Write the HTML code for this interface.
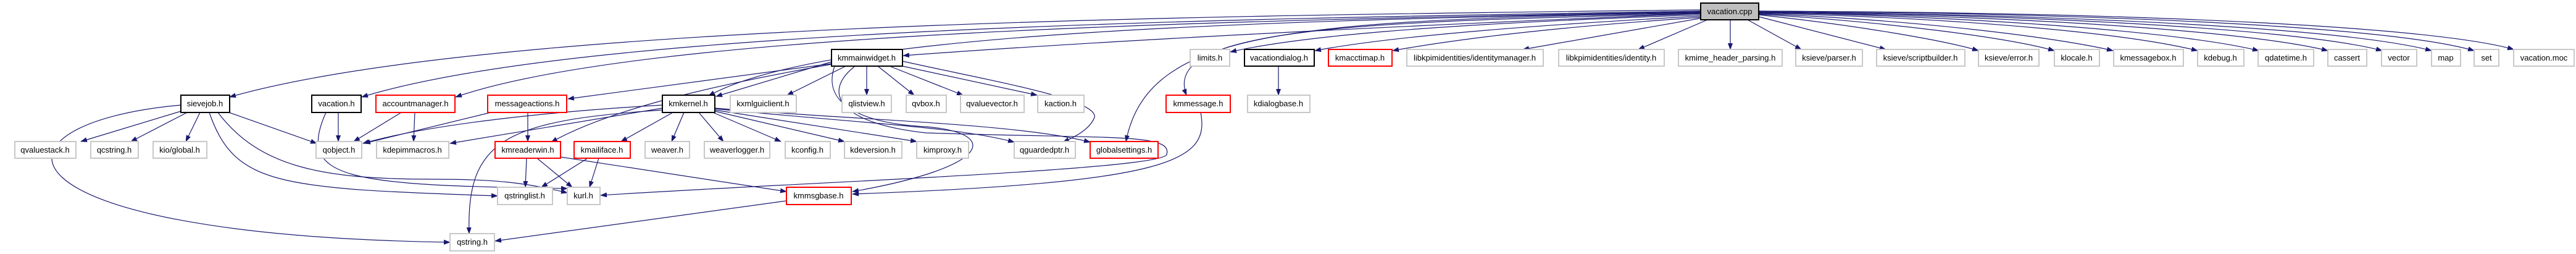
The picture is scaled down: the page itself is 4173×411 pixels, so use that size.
<!DOCTYPE html>
<html><head><meta charset="utf-8"><style>
html,body{margin:0;padding:0;background:#fff;}
svg{display:block}
text{font-family:"Liberation Sans",Helvetica,sans-serif;font-size:13px;fill:#000;text-anchor:middle}
.g{fill:#fff;stroke:#c8c8c8;stroke-width:2}
.b{fill:#fff;stroke:#000;stroke-width:2}
.r{fill:#fff;stroke:#ff0000;stroke-width:2}
.e path{fill:none;stroke:#191970;stroke-width:1.2}
</style></head><body>
<svg width="4173" height="411" viewBox="0 0 4173 411" xmlns="http://www.w3.org/2000/svg">
<defs><marker id="a" markerWidth="11" markerHeight="8" refX="10" refY="4" orient="auto" markerUnits="userSpaceOnUse"><path d="M0,0 L11,4 L0,8 z" fill="#191970"/></marker></defs>
<g class="e" marker-end="url(#a)">
<!-- from vacation.cpp -->
<path d="M2755,16 C2000,25 800,35 372,157" marker-end="url(#a)"/>
<path d="M2755,18 C2000,30 950,45 586,157" marker-end="url(#a)"/>
<path d="M2755,19 C2000,33 1050,50 738,157" marker-end="url(#a)"/>
<path d="M2755,20 C1900,35 1320,60 1148,155" marker-end="url(#a)"/>
<path d="M2755,22 C2300,40 1800,65 1463,90" marker-end="url(#a)"/>
<path d="M2755,22 C2200,35 1880,45 1922,154" marker-end="url(#a)"/>
<path d="M2755,21 C2100,33 1860,45 1824,229" marker-end="url(#a)"/>
<path d="M2755,24 C2300,40 2100,60 1993,84" marker-end="url(#a)"/>
<path d="M2756,26 C2400,45 2220,65 2130,82" marker-end="url(#a)"/>
<path d="M2757,28 C2500,45 2350,65 2256,82" marker-end="url(#a)"/>
<path d="M2758,29 L2467,80" marker-end="url(#a)"/>
<path d="M2766,32 L2654,80" marker-end="url(#a)"/>
<path d="M2803,32 L2803,80" marker-end="url(#a)"/>
<path d="M2831,32 L2918,80" marker-end="url(#a)"/>
<path d="M2849,27 L3055,80" marker-end="url(#a)"/>
<path d="M2849,24 C3000,40 3150,65 3205,82" marker-end="url(#a)"/>
<path d="M2849,23 C3050,35 3250,60 3328,82" marker-end="url(#a)"/>
<path d="M2849,22 C3100,32 3330,60 3423,82" marker-end="url(#a)"/>
<path d="M2849,21 C3200,30 3450,55 3560,82" marker-end="url(#a)"/>
<path d="M2849,20 C3250,28 3550,55 3659,82" marker-end="url(#a)"/>
<path d="M2849,20 C3300,26 3650,52 3771,82" marker-end="url(#a)"/>
<path d="M2849,19 C3350,25 3740,50 3859,82" marker-end="url(#a)"/>
<path d="M2849,19 C3400,24 3810,48 3939,82" marker-end="url(#a)"/>
<path d="M2849,18 C3450,22 3880,45 4008,82" marker-end="url(#a)"/>
<path d="M2849,18 C3500,20 3950,45 4072,80" marker-end="url(#a)"/>
<!-- kmmainwidget -->
<path d="M1347,100 L1160,156" marker-end="url(#a)"/>
<path d="M1347,103 L920,160" marker-end="url(#a)"/>
<path d="M1370,107 L1275,154" marker-end="url(#a)"/>
<path d="M1404,107 L1404,154" marker-end="url(#a)"/>
<path d="M1422,107 L1481,154" marker-end="url(#a)"/>
<path d="M1441,107 L1560,154" marker-end="url(#a)"/>
<path d="M1462,107 L1680,154" marker-end="url(#a)"/>
<path d="M1462,99 C1600,130 1780,160 1773,190 C1765,210 1740,222 1722,230" marker-end="url(#a)"/>
<path d="M1347,104 C1200,130 1000,170 893,230" marker-end="url(#a)"/>
<path d="M1385,107 C1330,150 1360,200 1500,215 C1800,225 1900,215 1890,250 C1880,275 1300,295 973,316" marker-end="url(#a)"/>
<path d="M1352,107 C1330,170 1400,200 1500,205 C1620,215 1610,270 1381,310" marker-end="url(#a)"/>
<!-- kmkernel -->
<path d="M1073,170 C900,180 700,200 588,232" marker-end="url(#a)"/>
<path d="M1073,175 L729,232" marker-end="url(#a)"/>
<path d="M1073,178 C820,195 755,225 760,378" marker-end="url(#a)"/>
<path d="M1090,182 L1006,229" marker-end="url(#a)"/>
<path d="M1108,182 L1088,229" marker-end="url(#a)"/>
<path d="M1132,182 L1172,229" marker-end="url(#a)"/>
<path d="M1155,182 L1265,229" marker-end="url(#a)"/>
<path d="M1158,180 L1368,229" marker-end="url(#a)"/>
<path d="M1158,178 C1300,200 1400,215 1485,229" marker-end="url(#a)"/>
<path d="M1158,176 C1400,200 1550,205 1643,230" marker-end="url(#a)"/>
<path d="M1158,175 C1400,195 1650,200 1766,230" marker-end="url(#a)"/>
<!-- messageactions -->
<path d="M795,182 L590,232" marker-end="url(#a)"/>
<path d="M855,182 L855,229" marker-end="url(#a)"/>
<!-- sievejob -->
<path d="M293,180 L131,229" marker-end="url(#a)"/>
<path d="M303,182 L212,229" marker-end="url(#a)"/>
<path d="M324,182 L301,229" marker-end="url(#a)"/>
<path d="M371,182 L513,232" marker-end="url(#a)"/>
<path d="M353,182 C420,270 520,290 700,290 C800,290 850,295 919,312" marker-end="url(#a)"/>
<path d="M339,182 C380,300 450,305 806,317" marker-end="url(#a)"/>
<path d="M293,170 C-40,200 -30,380 729,392" marker-end="url(#a)"/>
<!-- vacation.h -->
<path d="M548,182 L548,229" marker-end="url(#a)"/>
<path d="M528,182 C480,290 560,300 919,305" marker-end="url(#a)"/>
<!-- accountmanager -->
<path d="M650,182 L573,229" marker-end="url(#a)"/>
<path d="M672,182 L670,229" marker-end="url(#a)"/>
<!-- kmreaderwin -->
<path d="M853,256 L851,303" marker-end="url(#a)"/>
<path d="M870,256 L927,303" marker-end="url(#a)"/>
<path d="M908,254 L1274,310" marker-end="url(#a)"/>
<!-- kmailiface -->
<path d="M952,256 L877,303" marker-end="url(#a)"/>
<path d="M970,256 L955,303" marker-end="url(#a)"/>
<!-- kmmsgbase -->
<path d="M1274,325 L802,390" marker-end="url(#a)"/>
<!-- kmmessage -->
<path d="M1945,182 C1960,260 1900,295 1381,314" marker-end="url(#a)"/>
<!-- vacationdialog -->
<path d="M2071,107 L2071,154" marker-end="url(#a)"/>
</g>
<g>
<rect x="2755" y="5" width="94" height="27" fill="#bfbfbf" stroke="#000" stroke-width="2"/><text x="2802" y="23">vacation.cpp</text>
<!-- row2 -->
<rect class="b" x="1347" y="80" width="115" height="27"/><text x="1404" y="98">kmmainwidget.h</text>
<rect class="g" x="1928" y="80" width="64" height="27"/><text x="1960" y="98">limits.h</text>
<rect class="b" x="2016" y="80" width="113" height="27"/><text x="2072" y="98">vacationdialog.h</text>
<rect class="r" x="2152" y="80" width="103" height="27"/><text x="2203" y="98">kmacctimap.h</text>
<rect class="g" x="2279" y="80" width="221" height="27"/><text x="2389" y="98">libkpimidentities/identitymanager.h</text>
<rect class="g" x="2525" y="80" width="171" height="27"/><text x="2610" y="98">libkpimidentities/identity.h</text>
<rect class="g" x="2719" y="80" width="168" height="27"/><text x="2803" y="98">kmime_header_parsing.h</text>
<rect class="g" x="2909" y="80" width="108" height="27"/><text x="2963" y="98">ksieve/parser.h</text>
<rect class="g" x="3040" y="80" width="143" height="27"/><text x="3111" y="98">ksieve/scriptbuilder.h</text>
<rect class="g" x="3205" y="80" width="98" height="27"/><text x="3254" y="98">ksieve/error.h</text>
<rect class="g" x="3328" y="80" width="73" height="27"/><text x="3364" y="98">klocale.h</text>
<rect class="g" x="3424" y="80" width="113" height="27"/><text x="3480" y="98">kmessagebox.h</text>
<rect class="g" x="3560" y="80" width="75" height="27"/><text x="3597" y="98">kdebug.h</text>
<rect class="g" x="3658" y="80" width="90" height="27"/><text x="3703" y="98">qdatetime.h</text>
<rect class="g" x="3771" y="80" width="63" height="27"/><text x="3802" y="98">cassert</text>
<rect class="g" x="3858" y="80" width="57" height="27"/><text x="3886" y="98">vector</text>
<rect class="g" x="3939" y="80" width="47" height="27"/><text x="3962" y="98">map</text>
<rect class="g" x="4008" y="80" width="40" height="27"/><text x="4028" y="98">set</text>
<rect class="g" x="4072" y="80" width="98" height="27"/><text x="4121" y="98">vacation.moc</text>
<!-- row3 -->
<rect class="b" x="293" y="154" width="79" height="28"/><text x="332" y="172">sievejob.h</text>
<rect class="b" x="505" y="154" width="80" height="28"/><text x="545" y="172">vacation.h</text>
<rect class="r" x="609" y="154" width="128" height="28"/><text x="673" y="172">accountmanager.h</text>
<rect class="r" x="790" y="154" width="128" height="28"/><text x="854" y="172">messageactions.h</text>
<rect class="b" x="1073" y="154" width="85" height="28"/><text x="1115" y="172">kmkernel.h</text>
<rect class="g" x="1183" y="154" width="107" height="28"/><text x="1236" y="172">kxmlguiclient.h</text>
<rect class="g" x="1364" y="154" width="80" height="28"/><text x="1404" y="172">qlistview.h</text>
<rect class="g" x="1468" y="154" width="65" height="28"/><text x="1500" y="172">qvbox.h</text>
<rect class="g" x="1556" y="154" width="103" height="28"/><text x="1607" y="172">qvaluevector.h</text>
<rect class="g" x="1681" y="154" width="75" height="28"/><text x="1718" y="172">kaction.h</text>
<rect class="r" x="1889" y="154" width="104" height="28"/><text x="1941" y="172">kmmessage.h</text>
<rect class="g" x="2021" y="154" width="101" height="28"/><text x="2071" y="172">kdialogbase.h</text>
<!-- row4 -->
<rect class="g" x="24" y="229" width="99" height="27"/><text x="73" y="247">qvaluestack.h</text>
<rect class="g" x="147" y="229" width="77" height="27"/><text x="185" y="247">qcstring.h</text>
<rect class="g" x="248" y="229" width="87" height="27"/><text x="291" y="247">kio/global.h</text>
<rect class="g" x="512" y="229" width="74" height="27"/><text x="549" y="247">qobject.h</text>
<rect class="g" x="610" y="229" width="117" height="27"/><text x="668" y="247">kdepimmacros.h</text>
<rect class="r" x="802" y="229" width="106" height="27"/><text x="855" y="247">kmreaderwin.h</text>
<rect class="r" x="930" y="229" width="91" height="27"/><text x="975" y="247">kmailiface.h</text>
<rect class="g" x="1045" y="229" width="72" height="27"/><text x="1081" y="247">weaver.h</text>
<rect class="g" x="1141" y="229" width="106" height="27"/><text x="1194" y="247">weaverlogger.h</text>
<rect class="g" x="1272" y="229" width="73" height="27"/><text x="1308" y="247">kconfig.h</text>
<rect class="g" x="1368" y="229" width="93" height="27"/><text x="1414" y="247">kdeversion.h</text>
<rect class="g" x="1485" y="229" width="84" height="27"/><text x="1527" y="247">kimproxy.h</text>
<rect class="g" x="1643" y="229" width="99" height="27"/><text x="1692" y="247">qguardedptr.h</text>
<rect class="r" x="1766" y="229" width="110" height="27"/><text x="1821" y="247">globalsettings.h</text>
<!-- row5 -->
<rect class="g" x="806" y="303" width="89" height="28"/><text x="850" y="321">qstringlist.h</text>
<rect class="g" x="919" y="303" width="53" height="28"/><text x="945" y="321">kurl.h</text>
<rect class="r" x="1274" y="303" width="105" height="28"/><text x="1326" y="321">kmmsgbase.h</text>
<!-- row6 -->
<rect class="g" x="729" y="378" width="72" height="28"/><text x="765" y="396">qstring.h</text>
</g>
</svg>
</body></html>
